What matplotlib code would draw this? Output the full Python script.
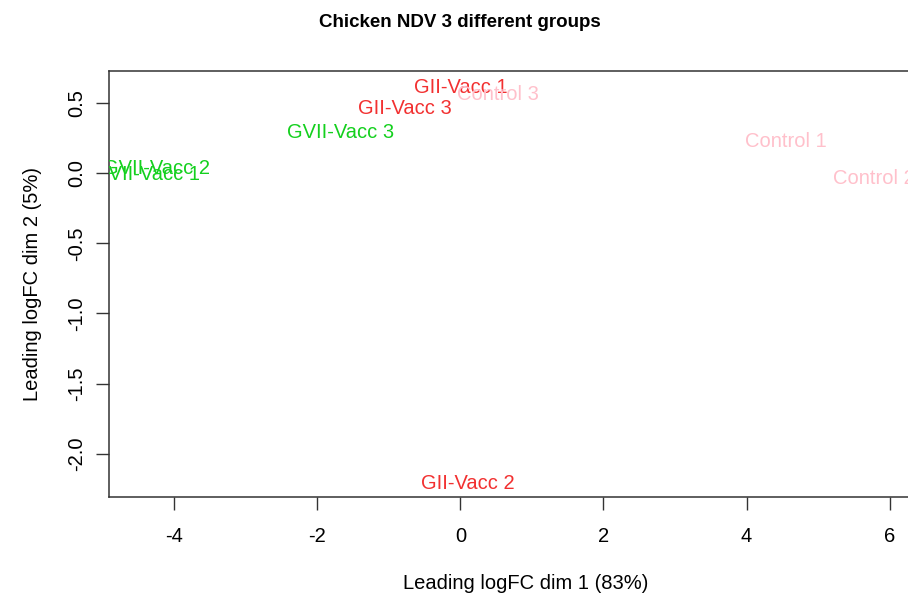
import numpy as np
import matplotlib
matplotlib.use("Agg")
import matplotlib.pyplot as plt

# MDS coordinates
samples = ["GII-Vacc 1", "GII-Vacc 2", "GII-Vacc 3",
           "GVII-Vacc 1", "GVII-Vacc 2", "GVII-Vacc 3",
           "Control 1", "Control 2", "Control 3"]
dim1 = [0.0, 0.11, -0.78, -4.39, -4.25, -1.67, 4.55, 5.78, 0.52]
dim2 = [0.61, -2.21, 0.46, -0.01, 0.035, 0.29, 0.23, -0.035, 0.56]
groups = ["GII", "GII", "GII", "GVII", "GVII", "GVII", "Control", "Control", "Control"]

group_colors = {"GII": "#f23030", "GVII": "#14d01e", "Control": "#ffc0cb"}

xticks = [-4, -2, 0, 2, 4, 6]
yticks = [-2.0, -1.5, -1.0, -0.5, 0.0, 0.5]

plt.rcParams['font.family'] = ['Liberation Sans', 'DejaVu Sans']
plt.rcParams['axes.unicode_minus'] = False

fig = plt.figure(figsize=(9.08, 5.96), dpi=100)
ax = fig.add_axes([0.12, 0.166, 0.919, 0.715])

for name, x, y, g in zip(samples, dim1, dim2, groups):
    ax.text(x, y, name, color=group_colors[g], fontsize=14.5,
            ha='center', va='center', clip_on=True)

ax.set_xlim(-4.91, 6.75)
ax.set_ylim(-2.31, 0.73)
ax.set_xticks(xticks)
ax.set_xticklabels([str(t) for t in xticks])
ax.set_yticks(yticks)
ax.set_yticklabels(["%.1f" % t for t in yticks], rotation=90, va='center')
ax.tick_params(length=9.5, width=1, labelsize=14.5, color='#333333')
ax.tick_params(axis='x', pad=12)
ax.tick_params(axis='y', pad=7)

for s in ax.spines.values():
    s.set_linewidth(1.1)
    s.set_color('#333333')

ax.set_xlabel("Leading logFC dim 1 (83%)", fontsize=14.5, labelpad=20)
ax.set_ylabel("Leading logFC dim 2 (5%)", fontsize=14.5, labelpad=18)
fig.text(0.507, 0.963, "Chicken NDV 3 different groups", fontsize=13.5,
         fontweight='bold', ha='center', va='center')

fig.savefig("out.png", dpi=100)
